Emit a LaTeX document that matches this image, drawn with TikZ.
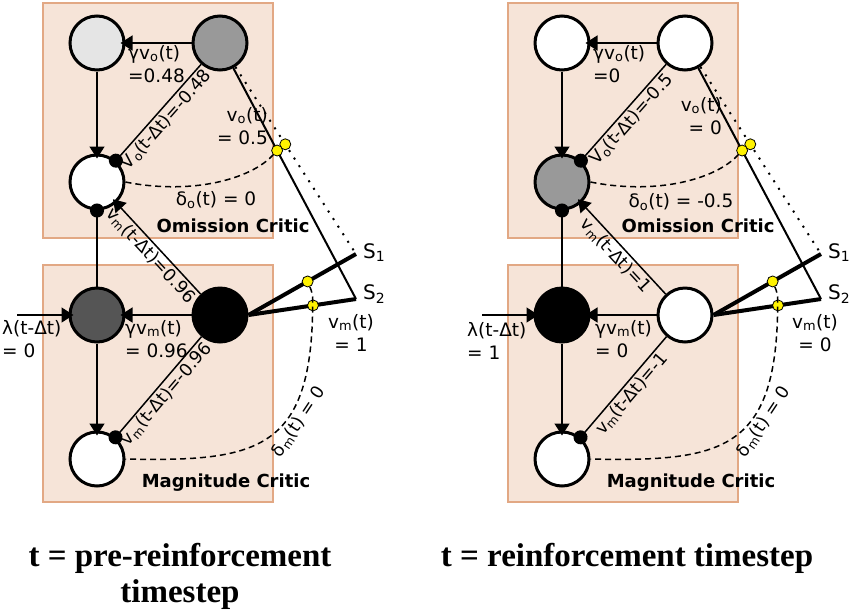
\documentclass[tikz,border=0pt]{standalone}
\usepackage{fontspec}
\setmainfont{DejaVu Sans}
\newfontfamily\titlefont{Liberation Serif}
\usetikzlibrary{arrows.meta,calc}

\definecolor{criticfill}{RGB}{246,228,216}
\definecolor{criticline}{RGB}{226,168,132}
\definecolor{lightunit}{RGB}{229,229,229}
\definecolor{midunit}{RGB}{153,153,153}
\definecolor{darkunit}{RGB}{85,85,85}

\tikzset{
  unit/.style={draw, circle, line width=3pt, minimum size=54pt, inner sep=0pt},
  critic/.style={fill=criticfill, draw=criticline, line width=2pt},
  excite/.style={line width=1.5pt, -{Triangle[length=12pt,width=15pt]}, shorten >=-5pt},
  inhib/.style={line width=1.5pt, -{Circle[length=14pt]}, shorten >=-7pt},
  eligible/.style={line width=1.5pt, dash pattern=on 6pt off 4pt},
  ydot/.style={draw, circle, fill=yellow, line width=0.8pt, inner sep=0pt, minimum size=11pt},
  lbl/.style={inner sep=0pt, font=\fontsize{18.5}{23}\selectfont},
  slbl/.style={sloped, midway, below, inner sep=2pt, font=\fontsize{17.5}{21}\selectfont},
  slabel/.style={inner sep=0pt, anchor=west, font=\fontsize{20}{24}\selectfont},
  criticname/.style={inner sep=0pt, font=\bfseries\fontsize{18}{20}\selectfont},
  title/.style={inner sep=0pt, anchor=north, align=center, font=\titlefont\bfseries\fontsize{33}{36}\selectfont}
}

\begin{document}
\begin{tikzpicture}[x=1pt, y=-1pt]
\useasboundingbox (0,0) rectangle (850,611);

%%% pre-reinforcement timestep
% Critic areas
\draw[critic] (43,3) rectangle (273,238);
\draw[critic] (43,265) rectangle (273,502);

% Units
\node[unit, fill=lightunit] (po1) at (97,43) {};
\node[unit, fill=midunit] (po2) at (220,43) {};
\node[unit, fill=white] (po3) at (97,182) {};
\node[unit, fill=darkunit] (pm1) at (97,315) {};
\node[unit, fill=black] (pm2) at (220,315) {};
\node[unit, fill=white] (pm3) at (97,459) {};
\coordinate (pin) at (17,315);
\coordinate (ps1) at (356,254);
\coordinate (ps2) at (356,299);

% Readout to S1 and S2
\draw[line width=2pt] (po2) -- (ps2);
\draw[line width=2pt, dash pattern=on 2pt off 7pt] (po2) -- (ps1);
\draw[line width=4pt] (pm2.east) -- (ps1);
\draw[line width=4pt] (pm2.east) -- (ps2);

% Traces
\node[ydot] (py2) at ($(po2)!0.48!(ps1)$) {};
\node[ydot] (py1) at ($(po2)!0.42!(ps2)$) {};
\node[ydot] (py3) at ($(pm2.east)!0.55!(ps1)$) {};
\node[ydot] (py4) at ($(pm2.east)!0.6!(ps2)$) {};
\draw[eligible] (po3.east) .. controls (190,195) and (250,180) .. (py1);
\draw[eligible] (py3) to[bend left=10] (py4) .. controls (313,450) and (260,462) .. (pm3.east)
  node[slbl, pos=0.37] {δ\textsubscript{m}(t) = 0};

% Connections
\draw[excite] (po2) -- (po1);
\draw[excite] (po1) -- (po3);
\draw[inhib] (po2) -- (po3) node[slbl] {V\textsubscript{o}(t-Δt)=-0.48};
\draw[excite] (pm2) -- (po3) node[slbl] {v\textsubscript{m}(t-Δt)=0.96};
\draw[inhib] (pm1) -- (po3);
\draw[excite] (pm2) -- (pm1);
\draw[excite] (pm1) -- (pm3);
\draw[inhib] (pm2) -- (pm3) node[slbl] {v\textsubscript{m}(t-Δt)=-0.96};
\draw[excite] (pin) -- (pm1);

% Labels
\node[lbl, anchor=north west, align=left] (pg1) at (128,45) {γv\textsubscript{o}(t)\\=0.48};
\node[lbl, anchor=north east, align=right] (pv1) at (268,107) {v\textsubscript{o}(t)\\= 0.5};
\node[lbl] (pd1) at (216,200) {δ\textsubscript{o}(t) = 0};
\node[criticname] (pc1) at (233,226) {Omission Critic};
\node[lbl, anchor=north west, align=left] (pl1) at (2,320) {λ(t-Δt)\\= 0};
\node[lbl, anchor=north west, align=left] (pg2) at (125,320) {γv\textsubscript{m}(t)\\= 0.96};
\node[lbl, anchor=north, align=center] (pv2) at (351,314) {v\textsubscript{m}(t)\\= 1};
\node[criticname] (pc2) at (226,483) {Magnitude Critic};
\node[slabel] (pl1s) at (363,253) {S\textsubscript{1}};
\node[slabel] (pl2s) at (363,294) {S\textsubscript{2}};

%%% reinforcement timestep
\begin{scope}[xshift=465pt]
% Critic areas
\draw[critic] (43,3) rectangle (273,238);
\draw[critic] (43,265) rectangle (273,502);

% Units
\node[unit, fill=white] (ro1) at (97,43) {};
\node[unit, fill=white] (ro2) at (220,43) {};
\node[unit, fill=midunit] (ro3) at (97,182) {};
\node[unit, fill=black] (rm1) at (97,315) {};
\node[unit, fill=white] (rm2) at (220,315) {};
\node[unit, fill=white] (rm3) at (97,459) {};
\coordinate (rin) at (17,315);
\coordinate (rs1) at (356,254);
\coordinate (rs2) at (356,299);

% Readout to S1 and S2
\draw[line width=2pt] (ro2) -- (rs2);
\draw[line width=2pt, dash pattern=on 2pt off 7pt] (ro2) -- (rs1);
\draw[line width=4pt] (rm2.east) -- (rs1);
\draw[line width=4pt] (rm2.east) -- (rs2);

% Traces
\node[ydot] (ry2) at ($(ro2)!0.48!(rs1)$) {};
\node[ydot] (ry1) at ($(ro2)!0.42!(rs2)$) {};
\node[ydot] (ry3) at ($(rm2.east)!0.55!(rs1)$) {};
\node[ydot] (ry4) at ($(rm2.east)!0.6!(rs2)$) {};
\draw[eligible] (ro3.east) .. controls (190,195) and (250,180) .. (ry1);
\draw[eligible] (ry3) to[bend left=10] (ry4) .. controls (313,450) and (260,462) .. (rm3.east)
  node[slbl, pos=0.37] {δ\textsubscript{m}(t) = 0};

% Connections
\draw[excite] (ro2) -- (ro1);
\draw[excite] (ro1) -- (ro3);
\draw[inhib] (ro2) -- (ro3) node[slbl] {V\textsubscript{o}(t-Δt)=-0.5};
\draw[excite] (rm2) -- (ro3) node[slbl] {v\textsubscript{m}(t-Δt)=1};
\draw[inhib] (rm1) -- (ro3);
\draw[excite] (rm2) -- (rm1);
\draw[excite] (rm1) -- (rm3);
\draw[inhib] (rm2) -- (rm3) node[slbl] {v\textsubscript{m}(t-Δt)=-1};
\draw[excite] (rin) -- (rm1);

% Labels
\node[lbl, anchor=north west, align=left] (rg1) at (128,45) {γv\textsubscript{o}(t)\\=0};
\node[lbl, anchor=north east, align=right] (rv1) at (257,97) {v\textsubscript{o}(t)\\= 0};
\node[lbl] (rd1) at (216,202) {δ\textsubscript{o}(t) = -0.5};
\node[criticname] (rc1) at (233,226) {Omission Critic};
\node[lbl, anchor=north west, align=left] (rl1) at (2,322) {λ(t-Δt)\\= 1};
\node[lbl, anchor=north west, align=left] (rg2) at (130,320) {γv\textsubscript{m}(t)\\= 0};
\node[lbl, anchor=north, align=center] (rv2) at (350,314) {v\textsubscript{m}(t)\\= 0};
\node[criticname] (rc2) at (226,483) {Magnitude Critic};
\node[slabel] (rl1s) at (363,253) {S\textsubscript{1}};
\node[slabel] (rl2s) at (363,294) {S\textsubscript{2}};
\end{scope}

% Timestep titles
\node[title] (pt) at (180,543) {t = pre-reinforcement\\timestep};
\node[title] (rt) at (627,543) {t = reinforcement timestep};
\end{tikzpicture}
\end{document}
